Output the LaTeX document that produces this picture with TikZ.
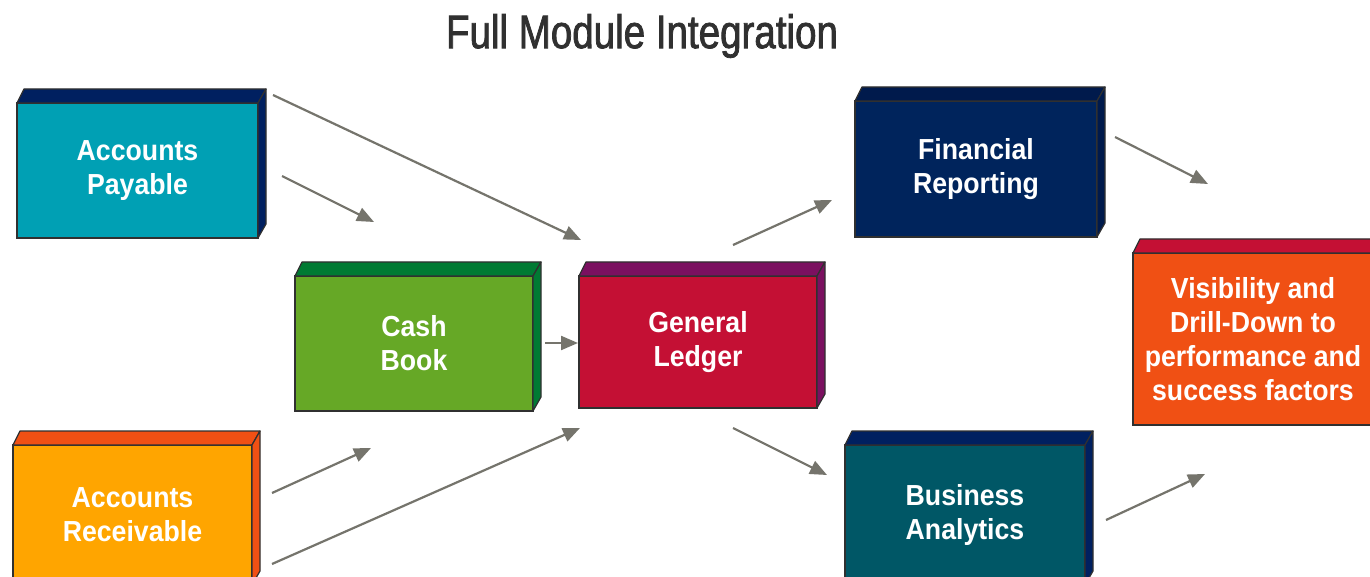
\documentclass[tikz,border=0pt]{standalone}
\usepackage{fontspec}
\usetikzlibrary{arrows.meta,calc}
\newfontfamily\lblfont[FakeStretch=0.92]{Liberation Sans Bold}
\newfontfamily\ttlfont[FakeStretch=0.82,FakeBold=1.6]{Liberation Sans}
\definecolor{apfront}{HTML}{00A0B4}
\definecolor{navyside}{HTML}{002060}
\definecolor{cbfront}{HTML}{66A826}
\definecolor{cbside}{HTML}{007A33}
\definecolor{glfront}{HTML}{C41034}
\definecolor{glside}{HTML}{7B1060}
\definecolor{frfront}{HTML}{00245C}
\definecolor{frside}{HTML}{001A4C}
\definecolor{visfront}{HTML}{F05014}
\definecolor{arfront}{HTML}{FFA500}
\definecolor{bafront}{HTML}{005766}
\definecolor{arrowgray}{HTML}{75746C}
\definecolor{edge}{HTML}{303030}
\tikzset{
  blockbox/.style={draw=edge, line width=1.2pt, inner sep=0pt, outer sep=0pt,
    text=white, align=center, font=\lblfont\fontsize{29}{34}\selectfont},
  facestyle/.style={draw=edge, line width=1.2pt, line join=round},
  flowarrow/.style={draw=arrowgray, line width=2.2pt,
    -{Triangle[length=17pt,width=14pt]}},
}
\newcommand\DepthFaces[3]{%
  \filldraw[facestyle, fill=#2] (#1.north west) -- ++(7,-14)
    -- ($(#1.north east)+(8,-14)$) -- (#1.north east) -- cycle;
  \filldraw[facestyle, fill=#3] (#1.north east) -- ++(8,-14)
    -- ($(#1.south east)+(8,-14)$) -- (#1.south east) -- cycle;
}
\begin{document}
\begin{tikzpicture}[x=1pt,y=-1pt]
\clip (0,0) rectangle (1370,577);
\fill[white] (0,0) rectangle (1370,577);

\node[text=edge, font=\ttlfont\fontsize{47}{50}\selectfont] (title) at (642,36) {Full Module Integration};

\node[blockbox, fill=apfront, minimum width=241pt, minimum height=135pt] (ap) at (137.5,170.5) {Accounts\\Payable};
\DepthFaces{ap}{navyside}{navyside}

\node[blockbox, fill=cbfront, minimum width=238pt, minimum height=135pt] (cb) at (414,343.5) {Cash\\Book};
\DepthFaces{cb}{cbside}{cbside}

\node[blockbox, fill=glfront, minimum width=238pt, minimum height=132pt] (gl) at (698,342) {General\\Ledger};
\DepthFaces{gl}{glside}{glside}

\node[blockbox, fill=frfront, minimum width=242pt, minimum height=136pt] (fr) at (976,169) {Financial\\Reporting};
\DepthFaces{fr}{frside}{frside}

\node[blockbox, fill=visfront, minimum width=240pt, minimum height=172pt] (vis) at (1253,339) {Visibility and\\Drill-Down to\\performance and\\success factors};
\DepthFaces{vis}{glfront}{glfront}

\node[blockbox, fill=arfront, minimum width=239pt, minimum height=140pt] (ar) at (132.5,515) {Accounts\\Receivable};
\DepthFaces{ar}{visfront}{visfront}

\node[blockbox, fill=bafront, minimum width=240pt, minimum height=140pt] (ba) at (965,515) {Business\\Analytics};
\DepthFaces{ba}{navyside}{navyside}

% arrow end points
\coordinate (apS1) at (273,95);   \coordinate (glT1) at (581,240);
\coordinate (apS2) at (282,176);  \coordinate (cbT1) at (374,222);
\coordinate (cbS)  at (545,343);  \coordinate (glT2) at (578,343);
\coordinate (glS1) at (733,245);  \coordinate (frT)  at (832,200);
\coordinate (frS)  at (1115,137); \coordinate (visT1) at (1208,184);
\coordinate (glS2) at (733,428);  \coordinate (baT)  at (827,475);
\coordinate (baS)  at (1106,520); \coordinate (visT2) at (1205,474);
\coordinate (arS1) at (272,493);  \coordinate (cbT2) at (371,448);
\coordinate (arS2) at (272,564);  \coordinate (glT3) at (580,428);

\draw[flowarrow] (apS1) -- (glT1);
\draw[flowarrow] (apS2) -- (cbT1);
\draw[flowarrow] (cbS) -- (glT2);
\draw[flowarrow] (glS1) -- (frT);
\draw[flowarrow] (frS) -- (visT1);
\draw[flowarrow] (glS2) -- (baT);
\draw[flowarrow] (baS) -- (visT2);
\draw[flowarrow] (arS1) -- (cbT2);
\draw[flowarrow] (arS2) -- (glT3);
\end{tikzpicture}
\end{document}
